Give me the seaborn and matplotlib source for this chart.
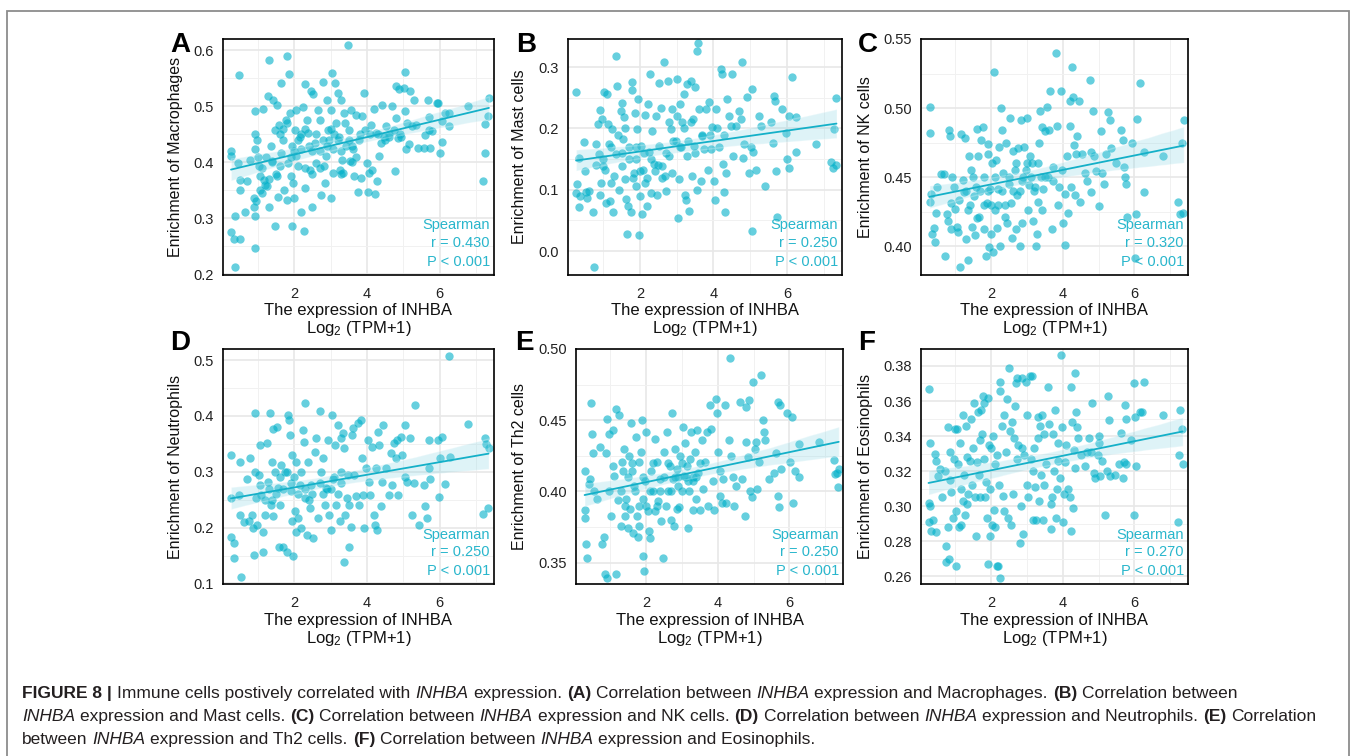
import seaborn as sns
import matplotlib.pyplot as plt
from matplotlib.patches import Rectangle

W, H = 1354, 756

# values: (INHBA log2 TPM+1, enrichment score)
macrophages = [
    (0.27, 0.421), (0.27, 0.411), (0.26, 0.275), (0.35, 0.263), (0.52, 0.264), (0.37, 0.213), (0.37, 0.305),
    (0.49, 0.555), (0.45, 0.399), (0.5, 0.369), (0.52, 0.35), (0.64, 0.311), (0.7, 0.366), (0.79, 0.404),
    (0.88, 0.336), (0.9, 0.321), (0.91, 0.491), (0.92, 0.451), (0.93, 0.423), (0.91, 0.247), (0.92, 0.304),
    (0.94, 0.331), (0.97, 0.44), (1.02, 0.393), (1.05, 0.375), (1.06, 0.351), (1.1, 0.345), (1.15, 0.495),
    (1.17, 0.369), (1.23, 0.41), (1.25, 0.357), (1.29, 0.518), (1.32, 0.321), (1.35, 0.429), (1.3, 0.582),
    (1.38, 0.402), (1.43, 0.512), (1.47, 0.458), (1.48, 0.287), (1.52, 0.503), (1.54, 0.375), (1.56, 0.339),
    (1.59, 0.467), (1.61, 0.393), (1.65, 0.542), (1.65, 0.417), (1.7, 0.44), (1.72, 0.351), (1.77, 0.476),
    (1.79, 0.333), (1.81, 0.59), (1.86, 0.557), (1.84, 0.399), (1.88, 0.488), (1.9, 0.375), (1.93, 0.429),
    (1.95, 0.286), (1.97, 0.363), (2.0, 0.336), (2.02, 0.458), (2.05, 0.411), (2.06, 0.494), (2.11, 0.393),
    (2.15, 0.446), (2.18, 0.312), (2.2, 0.423), (2.25, 0.498), (2.26, 0.277), (2.29, 0.354), (2.31, 0.54),
    (2.34, 0.476), (2.38, 0.452), (2.43, 0.387), (2.47, 0.527), (2.5, 0.321), (2.52, 0.521), (2.56, 0.434),
    (2.61, 0.399), (2.65, 0.494), (2.7, 0.476), (2.75, 0.342), (2.79, 0.543), (2.81, 0.393), (2.85, 0.363),
    (2.88, 0.411), (2.91, 0.512), (2.93, 0.458), (2.97, 0.44), (3.02, 0.336), (3.04, 0.56), (3.02, 0.494),
    (3.06, 0.423), (3.08, 0.381), (3.11, 0.541), (3.15, 0.47), (3.2, 0.524), (3.23, 0.446), (3.25, 0.387),
    (3.29, 0.512), (3.32, 0.405), (3.34, 0.381), (3.38, 0.488), (3.43, 0.429), (3.47, 0.61), (3.5, 0.458),
    (3.54, 0.402), (3.56, 0.494), (3.61, 0.423), (3.65, 0.375), (3.7, 0.485), (3.75, 0.347), (3.79, 0.44),
    (3.84, 0.372), (3.88, 0.482), (3.93, 0.524), (3.95, 0.458), (4.0, 0.399), (4.02, 0.347), (4.06, 0.381),
    (4.11, 0.467), (4.15, 0.387), (4.2, 0.496), (4.23, 0.344), (4.25, 0.452), (4.27, 0.366), (4.34, 0.411),
    (4.38, 0.434), (4.43, 0.503), (4.47, 0.446), (4.52, 0.464), (4.61, 0.446), (4.7, 0.5), (4.75, 0.458),
    (4.77, 0.384), (4.79, 0.479), (4.81, 0.536), (4.86, 0.443), (4.88, 0.53), (4.95, 0.446), (5.02, 0.533),
    (5.05, 0.561), (5.06, 0.491), (5.08, 0.423), (5.11, 0.47), (5.17, 0.432), (5.2, 0.527), (5.25, 0.464),
    (5.29, 0.512), (5.34, 0.467), (5.41, 0.426), (5.58, 0.426), (5.61, 0.449), (5.68, 0.512), (5.7, 0.458),
    (5.72, 0.48), (5.75, 0.426), (5.79, 0.455), (5.93, 0.506), (5.97, 0.505), (6.0, 0.416), (6.06, 0.437),
    (6.08, 0.473), (6.15, 0.488), (6.25, 0.464), (6.27, 0.488), (6.79, 0.501), (7.2, 0.366), (7.26, 0.417),
    (7.26, 0.469), (7.34, 0.482), (7.36, 0.515),
    (1.6, 0.45), (1.7, 0.46), (1.8, 0.47), (1.9, 0.41), (2.0, 0.42), (2.1, 0.44), (2.2, 0.45), (2.3, 0.46),
    (2.4, 0.43), (2.5, 0.42), (2.6, 0.45), (2.7, 0.42), (2.8, 0.44), (2.9, 0.43), (3.0, 0.46), (3.1, 0.45),
    (3.2, 0.44), (3.3, 0.42), (3.4, 0.47), (3.5, 0.44), (3.6, 0.43), (3.7, 0.41), (3.8, 0.45), (1.4, 0.4),
    (1.5, 0.38), (1.3, 0.37), (1.2, 0.36), (1.1, 0.39), (1.0, 0.41), (2.3, 0.39), (2.5, 0.38), (2.7, 0.39),
    (3.3, 0.38), (3.6, 0.4), (4.1, 0.45), (4.3, 0.45), (4.5, 0.44), (4.6, 0.45), (4.9, 0.45),
]

mast = [
    (0.27, 0.26), (0.29, 0.109), (0.26, 0.095), (0.35, 0.152), (0.38, 0.09), (0.35, 0.072), (0.47, 0.178),
    (0.5, 0.131), (0.52, 0.096), (0.56, 0.087), (0.61, 0.098), (0.72, 0.063), (0.75, -0.026), (0.79, 0.175),
    (0.86, 0.208), (0.88, 0.158), (0.9, 0.092), (0.93, 0.111), (0.91, 0.23), (0.97, 0.216), (0.99, 0.139),
    (1.02, 0.259), (1.06, 0.133), (1.08, 0.079), (1.1, 0.257), (1.14, 0.207), (1.15, 0.174), (1.17, 0.081),
    (1.2, 0.111), (1.25, 0.199), (1.26, 0.063), (1.29, 0.122), (1.34, 0.318), (1.35, 0.158), (1.38, 0.27),
    (1.43, 0.1), (1.47, 0.229), (1.5, 0.242), (1.52, 0.139), (1.54, 0.183), (1.56, 0.218), (1.59, 0.117),
    (1.63, 0.085), (1.65, 0.028), (1.68, 0.073), (1.7, 0.169), (1.75, 0.063), (1.77, 0.262), (1.79, 0.276),
    (1.84, 0.128), (1.86, 0.226), (1.88, 0.106), (1.9, 0.15), (1.93, 0.199), (1.95, 0.248), (1.97, 0.027),
    (2.0, 0.09), (2.02, 0.172), (2.06, 0.06), (2.08, 0.133), (2.14, 0.222), (2.15, 0.111), (2.2, 0.073),
    (2.22, 0.24), (2.25, 0.161), (2.27, 0.289), (2.29, 0.095), (2.34, 0.196), (2.38, 0.142), (2.43, 0.221),
    (2.47, 0.092), (2.52, 0.172), (2.53, 0.274), (2.56, 0.234), (2.61, 0.139), (2.65, 0.308), (2.68, 0.122),
    (2.72, 0.098), (2.77, 0.278), (2.79, 0.155), (2.84, 0.199), (2.86, 0.232), (2.88, 0.128), (2.97, 0.18),
    (3.02, 0.28), (3.04, 0.054), (3.06, 0.117), (3.08, 0.24), (3.11, 0.169), (3.15, 0.21), (3.2, 0.256),
    (3.23, 0.092), (3.25, 0.084), (3.28, 0.273), (3.29, 0.155), (3.34, 0.065), (3.38, 0.278), (3.41, 0.122),
    (3.43, 0.215), (3.47, 0.172), (3.5, 0.267), (3.54, 0.327), (3.59, 0.339), (3.56, 0.1), (3.61, 0.232),
    (3.65, 0.114), (3.7, 0.188), (3.75, 0.167), (3.79, 0.232), (3.84, 0.133), (3.88, 0.243), (3.93, 0.166),
    (3.97, 0.202), (4.02, 0.114), (4.05, 0.084), (4.08, 0.232), (4.15, 0.169), (4.2, 0.297), (4.23, 0.289),
    (4.27, 0.142), (4.29, 0.096), (4.32, 0.064), (4.34, 0.128), (4.38, 0.248), (4.43, 0.221), (4.47, 0.204),
    (4.5, 0.289), (4.52, 0.155), (4.61, 0.204), (4.7, 0.229), (4.75, 0.215), (4.77, 0.308), (4.81, 0.152),
    (4.84, 0.174), (4.9, 0.251), (4.97, 0.128), (5.02, 0.169), (5.05, 0.264), (5.06, 0.033), (5.09, 0.161),
    (5.15, 0.133), (5.25, 0.221), (5.29, 0.204), (5.41, 0.106), (5.56, 0.21), (5.61, 0.177), (5.65, 0.253),
    (5.68, 0.245), (5.7, 0.13), (5.73, 0.056), (5.88, 0.232), (5.97, 0.193), (6.0, 0.15), (6.05, 0.136),
    (6.06, 0.221), (6.15, 0.284), (6.25, 0.218), (6.26, 0.161), (6.79, 0.174), (7.2, 0.145), (7.25, 0.136),
    (7.29, 0.199), (7.34, 0.14), (7.35, 0.249),
    (1.5, 0.16), (1.7, 0.15), (1.9, 0.17), (2.1, 0.16), (2.3, 0.15), (2.5, 0.14), (2.7, 0.16), (2.9, 0.18),
    (3.1, 0.17), (3.3, 0.18), (3.5, 0.16), (3.7, 0.19), (3.9, 0.19), (4.1, 0.2), (4.3, 0.19), (1.8, 0.12),
    (2.0, 0.13), (2.2, 0.12), (2.4, 0.13), (2.6, 0.12), (2.8, 0.21), (3.0, 0.22), (3.2, 0.2), (3.4, 0.21),
    (1.6, 0.2), (1.4, 0.19), (1.2, 0.17), (1.0, 0.15), (0.8, 0.14),
]

nk = [
    (0.28, 0.501), (0.28, 0.482), (0.31, 0.438), (0.28, 0.432), (0.35, 0.409), (0.4, 0.413), (0.44, 0.403),
    (0.49, 0.443), (0.47, 0.424), (0.59, 0.452), (0.68, 0.452), (0.72, 0.393), (0.78, 0.423), (0.8, 0.418),
    (0.83, 0.484), (0.85, 0.48), (0.87, 0.431), (0.89, 0.412), (0.92, 0.45), (0.95, 0.443), (0.98, 0.427),
    (1.04, 0.414), (1.08, 0.41), (1.11, 0.433), (1.14, 0.385), (1.15, 0.481), (1.2, 0.448), (1.25, 0.439),
    (1.28, 0.478), (1.29, 0.405), (1.34, 0.426), (1.36, 0.39), (1.39, 0.465), (1.43, 0.455), (1.46, 0.414),
    (1.51, 0.436), (1.55, 0.408), (1.58, 0.443), (1.6, 0.485), (1.64, 0.465), (1.67, 0.421), (1.72, 0.477),
    (1.76, 0.486), (1.79, 0.412), (1.81, 0.45), (1.86, 0.393), (1.89, 0.431), (1.91, 0.474), (1.92, 0.467),
    (1.95, 0.399), (1.98, 0.441), (2.0, 0.409), (2.02, 0.46), (2.05, 0.396), (2.09, 0.526), (2.11, 0.426),
    (2.14, 0.462), (2.17, 0.413), (2.19, 0.441), (2.22, 0.472), (2.26, 0.4), (2.28, 0.5), (2.3, 0.484),
    (2.33, 0.453), (2.38, 0.421), (2.42, 0.475), (2.45, 0.417), (2.49, 0.445), (2.52, 0.493), (2.55, 0.431),
    (2.58, 0.406), (2.61, 0.469), (2.66, 0.455), (2.69, 0.412), (2.72, 0.437), (2.75, 0.471), (2.8, 0.4),
    (2.83, 0.491), (2.85, 0.417), (2.87, 0.447), (2.92, 0.472), (2.96, 0.455), (2.99, 0.493), (3.02, 0.426),
    (3.05, 0.444), (3.08, 0.465), (3.13, 0.46), (3.17, 0.418), (3.22, 0.443), (3.25, 0.4), (3.27, 0.409),
    (3.3, 0.432), (3.34, 0.475), (3.36, 0.498), (3.41, 0.486), (3.43, 0.426), (3.46, 0.441), (3.51, 0.483),
    (3.55, 0.501), (3.58, 0.45), (3.62, 0.484), (3.65, 0.512), (3.69, 0.412), (3.72, 0.457), (3.74, 0.447),
    (3.81, 0.54), (3.84, 0.487), (3.86, 0.43), (3.9, 0.443), (3.95, 0.512), (3.98, 0.455), (4.0, 0.417),
    (4.05, 0.438), (4.07, 0.401), (4.12, 0.465), (4.16, 0.424), (4.21, 0.505), (4.21, 0.487), (4.24, 0.443),
    (4.26, 0.53), (4.28, 0.508), (4.31, 0.473), (4.33, 0.437), (4.37, 0.467), (4.4, 0.48), (4.45, 0.505),
    (4.48, 0.432), (4.54, 0.467), (4.63, 0.453), (4.68, 0.447), (4.75, 0.52), (4.78, 0.468), (4.8, 0.439),
    (4.84, 0.498), (4.87, 0.465), (4.94, 0.454), (5.01, 0.429), (5.06, 0.483), (5.1, 0.453), (5.15, 0.445),
    (5.22, 0.467), (5.27, 0.497), (5.31, 0.491), (5.34, 0.471), (5.48, 0.46), (5.62, 0.484), (5.67, 0.477),
    (5.71, 0.457), (5.74, 0.45), (5.77, 0.445), (5.79, 0.421), (5.93, 0.475), (6.04, 0.423), (6.03, 0.391),
    (6.07, 0.492), (6.16, 0.518), (6.28, 0.468), (6.28, 0.439), (6.8, 0.465), (7.22, 0.432), (7.27, 0.423),
    (7.32, 0.475), (7.36, 0.424), (7.38, 0.491),
    (1.3, 0.44), (1.5, 0.45), (1.7, 0.44), (1.9, 0.44), (2.1, 0.45), (2.3, 0.44), (2.5, 0.45), (2.7, 0.46),
    (2.9, 0.45), (3.1, 0.45), (3.3, 0.46), (3.5, 0.45), (1.4, 0.43), (1.6, 0.42), (1.8, 0.43), (2.0, 0.43),
    (2.2, 0.43), (2.4, 0.43), (2.6, 0.44), (2.8, 0.44), (3.0, 0.46), (3.2, 0.44), (3.4, 0.45),
]

neutrophils = [
    (0.27, 0.33), (0.26, 0.253), (0.26, 0.184), (0.34, 0.172), (0.35, 0.145), (0.5, 0.317), (0.47, 0.259),
    (0.52, 0.223), (0.54, 0.111), (0.61, 0.21), (0.7, 0.288), (0.75, 0.211), (0.79, 0.324), (0.84, 0.223),
    (0.86, 0.199), (0.88, 0.151), (0.91, 0.406), (0.93, 0.3), (0.95, 0.253), (0.97, 0.205), (1.02, 0.294),
    (1.05, 0.348), (1.06, 0.277), (1.09, 0.259), (1.14, 0.193), (1.15, 0.157), (1.2, 0.223), (1.25, 0.351),
    (1.29, 0.282), (1.34, 0.405), (1.35, 0.241), (1.38, 0.318), (1.41, 0.377), (1.43, 0.22), (1.47, 0.3),
    (1.52, 0.381), (1.56, 0.271), (1.59, 0.166), (1.61, 0.241), (1.65, 0.312), (1.7, 0.166), (1.75, 0.3),
    (1.79, 0.157), (1.84, 0.402), (1.86, 0.393), (1.88, 0.366), (1.9, 0.265), (1.93, 0.33), (1.95, 0.211),
    (1.97, 0.15), (2.0, 0.291), (2.02, 0.229), (2.05, 0.193), (2.06, 0.318), (2.11, 0.217), (2.15, 0.277),
    (2.2, 0.199), (2.25, 0.375), (2.27, 0.354), (2.29, 0.423), (2.31, 0.253), (2.34, 0.187), (2.38, 0.318),
    (2.43, 0.235), (2.47, 0.277), (2.52, 0.181), (2.56, 0.336), (2.61, 0.36), (2.65, 0.217), (2.7, 0.409),
    (2.75, 0.3), (2.79, 0.324), (2.84, 0.241), (2.88, 0.271), (2.93, 0.357), (2.97, 0.223), (3.02, 0.196),
    (3.05, 0.402), (3.06, 0.288), (3.11, 0.348), (3.15, 0.241), (3.2, 0.384), (3.25, 0.211), (3.28, 0.36),
    (3.29, 0.3), (3.34, 0.369), (3.37, 0.342), (3.38, 0.139), (3.41, 0.223), (3.45, 0.253), (3.47, 0.294),
    (3.5, 0.166), (3.52, 0.241), (3.56, 0.202), (3.59, 0.366), (3.63, 0.378), (3.65, 0.294), (3.7, 0.256),
    (3.75, 0.387), (3.79, 0.241), (3.84, 0.393), (3.86, 0.324), (3.9, 0.259), (3.93, 0.199), (3.97, 0.306),
    (4.02, 0.357), (4.05, 0.282), (4.08, 0.259), (4.15, 0.345), (4.2, 0.223), (4.23, 0.205), (4.25, 0.306),
    (4.29, 0.196), (4.32, 0.372), (4.34, 0.348), (4.38, 0.238), (4.43, 0.282), (4.45, 0.384), (4.52, 0.306),
    (4.61, 0.259), (4.66, 0.333), (4.7, 0.277), (4.75, 0.351), (4.79, 0.324), (4.84, 0.357), (4.86, 0.259),
    (4.93, 0.363), (4.97, 0.33), (5.05, 0.384), (5.06, 0.291), (5.11, 0.282), (5.2, 0.36), (5.25, 0.223),
    (5.29, 0.28), (5.32, 0.42), (5.43, 0.205), (5.56, 0.277), (5.61, 0.238), (5.65, 0.217), (5.7, 0.357),
    (5.72, 0.306), (5.75, 0.288), (5.95, 0.357), (5.99, 0.254), (6.02, 0.324), (6.06, 0.363), (6.15, 0.278),
    (6.26, 0.508), (6.28, 0.327), (6.79, 0.385), (7.2, 0.224), (7.26, 0.36), (7.29, 0.349), (7.34, 0.236),
    (7.35, 0.342),
    (1.3, 0.27), (1.5, 0.26), (1.7, 0.27), (1.9, 0.28), (2.1, 0.26), (2.3, 0.27), (2.5, 0.26), (2.7, 0.28),
    (2.9, 0.27), (3.1, 0.29), (3.3, 0.28), (1.2, 0.25), (1.4, 0.25), (1.6, 0.29), (1.8, 0.3), (2.2, 0.3),
    (2.4, 0.25), (2.8, 0.26), (3.0, 0.27), (3.2, 0.26),
]

th2 = [
    (0.28, 0.414), (0.28, 0.387), (0.28, 0.381), (0.33, 0.363), (0.35, 0.353), (0.4, 0.405), (0.44, 0.409),
    (0.47, 0.462), (0.49, 0.44), (0.52, 0.427), (0.54, 0.4), (0.63, 0.395), (0.72, 0.431), (0.78, 0.363),
    (0.82, 0.368), (0.85, 0.342), (0.87, 0.427), (0.9, 0.451), (0.92, 0.339), (0.95, 0.44), (0.97, 0.4),
    (1.02, 0.383), (1.06, 0.418), (1.08, 0.443), (1.11, 0.411), (1.15, 0.342), (1.17, 0.458), (1.2, 0.394),
    (1.25, 0.454), (1.29, 0.376), (1.32, 0.421), (1.34, 0.414), (1.39, 0.43), (1.42, 0.383), (1.44, 0.395),
    (1.48, 0.374), (1.53, 0.425), (1.55, 0.388), (1.58, 0.448), (1.6, 0.414), (1.64, 0.371), (1.67, 0.404),
    (1.72, 0.438), (1.74, 0.383), (1.76, 0.368), (1.79, 0.421), (1.81, 0.376), (1.86, 0.428), (1.89, 0.45),
    (1.91, 0.355), (1.92, 0.395), (1.95, 0.344), (1.98, 0.407), (2.0, 0.442), (2.05, 0.386), (2.09, 0.372),
    (2.11, 0.367), (2.14, 0.414), (2.19, 0.4), (2.24, 0.437), (2.26, 0.386), (2.3, 0.421), (2.33, 0.393),
    (2.38, 0.409), (2.42, 0.379), (2.47, 0.353), (2.49, 0.428), (2.55, 0.39), (2.57, 0.442), (2.61, 0.4),
    (2.66, 0.418), (2.69, 0.38), (2.72, 0.455), (2.75, 0.409), (2.78, 0.376), (2.8, 0.43), (2.85, 0.388),
    (2.87, 0.416), (2.89, 0.404), (2.92, 0.389), (2.94, 0.425), (2.99, 0.4), (3.04, 0.445), (3.05, 0.411),
    (3.08, 0.434), (3.13, 0.418), (3.16, 0.374), (3.18, 0.407), (3.22, 0.423), (3.25, 0.442), (3.3, 0.387),
    (3.32, 0.407), (3.36, 0.428), (3.39, 0.395), (3.43, 0.443), (3.46, 0.413), (3.51, 0.387), (3.55, 0.436),
    (3.6, 0.402), (3.64, 0.421), (3.69, 0.442), (3.74, 0.39), (3.77, 0.461), (3.81, 0.444), (3.86, 0.407),
    (3.9, 0.387), (3.95, 0.465), (3.97, 0.455), (4.0, 0.428), (4.05, 0.397), (4.07, 0.414), (4.12, 0.392),
    (4.16, 0.409), (4.21, 0.461), (4.24, 0.392), (4.31, 0.436), (4.35, 0.494), (4.37, 0.425), (4.43, 0.41),
    (4.45, 0.39), (4.52, 0.404), (4.61, 0.463), (4.68, 0.409), (4.75, 0.383), (4.78, 0.435), (4.8, 0.459),
    (4.84, 0.424), (4.87, 0.464), (4.91, 0.4), (4.96, 0.396), (4.99, 0.477), (5.03, 0.43), (5.06, 0.435),
    (5.09, 0.402), (5.15, 0.421), (5.2, 0.482), (5.27, 0.45), (5.29, 0.442), (5.31, 0.436), (5.43, 0.409),
    (5.58, 0.413), (5.62, 0.427), (5.67, 0.463), (5.69, 0.397), (5.72, 0.389), (5.75, 0.461), (5.78, 0.416),
    (5.93, 0.455), (6.03, 0.421), (6.07, 0.452), (6.09, 0.392), (6.16, 0.414), (6.28, 0.41), (6.28, 0.433),
    (6.82, 0.435), (7.25, 0.422), (7.29, 0.412), (7.32, 0.413), (7.36, 0.403), (7.38, 0.416),
    (1.3, 0.4), (1.5, 0.41), (1.7, 0.4), (1.9, 0.41), (2.1, 0.4), (2.3, 0.39), (2.5, 0.41), (2.7, 0.4),
    (2.9, 0.41), (3.1, 0.41), (3.3, 0.41), (3.5, 0.42), (1.4, 0.39), (1.6, 0.42), (1.8, 0.39), (2.0, 0.39),
    (2.2, 0.42), (2.4, 0.4), (2.6, 0.42), (2.8, 0.41), (3.0, 0.42), (3.2, 0.4), (3.4, 0.41),
]

eosinophils = [
    (0.25, 0.367), (0.25, 0.302), (0.28, 0.3), (0.25, 0.291), (0.33, 0.286), (0.37, 0.292), (0.45, 0.285),
    (0.3, 0.336), (0.42, 0.33), (0.45, 0.326), (0.51, 0.317), (0.56, 0.321), (0.64, 0.305), (0.71, 0.32),
    (0.75, 0.277), (0.75, 0.268), (0.8, 0.345), (0.8, 0.288), (0.82, 0.27), (0.84, 0.331), (0.86, 0.315),
    (0.89, 0.308), (0.94, 0.293), (0.96, 0.327), (0.99, 0.344), (1.01, 0.297), (1.03, 0.266), (1.05, 0.344),
    (1.08, 0.324), (1.11, 0.288), (1.13, 0.336), (1.15, 0.31), (1.17, 0.289), (1.2, 0.303), (1.22, 0.352),
    (1.25, 0.318), (1.27, 0.295), (1.3, 0.346), (1.32, 0.328), (1.33, 0.301), (1.36, 0.307), (1.4, 0.326),
    (1.43, 0.35), (1.46, 0.312), (1.49, 0.333), (1.52, 0.359), (1.55, 0.305), (1.59, 0.283), (1.6, 0.325),
    (1.62, 0.354), (1.65, 0.318), (1.68, 0.338), (1.69, 0.305), (1.73, 0.355), (1.74, 0.341), (1.77, 0.363),
    (1.79, 0.359), (1.81, 0.327), (1.84, 0.305), (1.87, 0.314), (1.89, 0.293), (1.9, 0.362), (1.91, 0.267),
    (1.93, 0.335), (1.96, 0.283), (1.98, 0.31), (1.99, 0.333), (2.02, 0.289), (2.05, 0.34), (2.07, 0.298),
    (2.1, 0.288), (2.12, 0.324), (2.15, 0.266), (2.17, 0.329), (2.19, 0.266), (2.21, 0.312), (2.24, 0.371),
    (2.26, 0.366), (2.26, 0.259), (2.29, 0.346), (2.32, 0.306), (2.35, 0.352), (2.36, 0.297), (2.42, 0.331),
    (2.44, 0.361), (2.47, 0.293), (2.5, 0.379), (2.53, 0.343), (2.55, 0.289), (2.58, 0.348), (2.6, 0.307),
    (2.64, 0.339), (2.67, 0.357), (2.69, 0.37), (2.72, 0.327), (2.73, 0.373), (2.76, 0.335), (2.81, 0.279),
    (2.83, 0.3), (2.86, 0.333), (2.87, 0.373), (2.9, 0.284), (2.92, 0.329), (2.97, 0.371), (3.01, 0.352),
    (3.01, 0.312), (3.04, 0.305), (3.08, 0.374), (3.11, 0.327), (3.14, 0.374), (3.16, 0.32), (3.18, 0.292),
    (3.2, 0.333), (3.23, 0.311), (3.25, 0.292), (3.3, 0.339), (3.32, 0.351), (3.34, 0.303), (3.37, 0.346),
    (3.39, 0.318), (3.42, 0.352), (3.44, 0.292), (3.47, 0.312), (3.49, 0.341), (3.53, 0.324), (3.58, 0.368),
    (3.62, 0.347), (3.66, 0.287), (3.68, 0.301), (3.69, 0.305), (3.72, 0.341), (3.75, 0.32), (3.79, 0.355),
    (3.81, 0.293), (3.85, 0.31), (3.86, 0.336), (3.88, 0.326), (3.91, 0.316), (3.96, 0.386), (3.98, 0.345),
    (4.0, 0.291), (4.04, 0.307), (4.05, 0.325), (4.1, 0.335), (4.15, 0.31), (4.19, 0.305), (4.22, 0.368),
    (4.24, 0.286), (4.26, 0.348), (4.29, 0.299), (4.32, 0.332), (4.34, 0.322), (4.35, 0.376), (4.38, 0.354),
    (4.41, 0.345), (4.43, 0.339), (4.52, 0.329), (4.63, 0.323), (4.68, 0.331), (4.73, 0.339), (4.79, 0.331),
    (4.83, 0.359), (4.86, 0.319), (4.9, 0.316), (4.98, 0.329), (5.0, 0.34), (5.02, 0.336), (5.04, 0.317),
    (5.11, 0.326), (5.17, 0.295), (5.23, 0.32), (5.26, 0.363), (5.3, 0.349), (5.33, 0.317), (5.47, 0.318),
    (5.56, 0.324), (5.64, 0.342), (5.67, 0.316), (5.72, 0.325), (5.74, 0.358), (5.76, 0.35), (5.78, 0.324),
    (5.92, 0.338), (5.99, 0.295), (6.02, 0.351), (6.05, 0.323), (5.99, 0.37), (6.15, 0.354), (6.22, 0.354),
    (6.27, 0.371), (6.79, 0.352), (7.21, 0.291), (7.26, 0.329), (7.28, 0.355), (7.33, 0.344), (7.35, 0.324),
]

letters = ["A", "B", "C", "D", "E", "F"]
series = [macrophages, mast, nk, neutrophils, th2, eosinophils]
ylabels = ["Enrichment of Macrophages", "Enrichment of Mast cells", "Enrichment of NK cells",
           "Enrichment of Neutrophils", "Enrichment of Th2 cells", "Enrichment of Eosinophils"]
r_values = ["0.430", "0.250", "0.320", "0.250", "0.250", "0.270"]
yticks = [[0.2, 0.3, 0.4, 0.5, 0.6], [0.0, 0.1, 0.2, 0.3], [0.40, 0.45, 0.50, 0.55],
          [0.1, 0.2, 0.3, 0.4, 0.5], [0.35, 0.40, 0.45, 0.50], [0.26, 0.28, 0.30, 0.32, 0.34, 0.36, 0.38]]
ytick_fmt = ["{:.1f}", "{:.1f}", "{:.2f}", "{:.1f}", "{:.2f}", "{:.2f}"]
ylims = [(0.199, 0.62), (-0.039, 0.346), (0.379, 0.55), (0.099, 0.52), (0.335, 0.50), (0.2555, 0.3897)]

# layout in pixels (left, top, right, bottom)
boxes = [(223, 39, 494, 275), (568, 39, 842, 275), (921, 39, 1188, 275),
         (223, 349, 494, 584), (576, 349, 843, 584), (921, 349, 1188, 584)]
letter_pos = [(170, 52), (516, 52), (858, 52), (170, 350), (515, 350), (858, 350)]
ylabel_x = [176, 520, 865, 176, 520, 865]

PT = "#00B0C9"
LINE = "#14B0C8"
TXT = "#29B6CC"

sns.set_theme(style="white")
plt.rcParams['font.family'] = ['Liberation Sans', 'DejaVu Sans']
plt.rcParams['mathtext.fontset'] = 'custom'
plt.rcParams['mathtext.rm'] = 'Liberation Sans'
plt.rcParams['mathtext.it'] = 'Liberation Sans:italic'
plt.rcParams['mathtext.bf'] = 'Liberation Sans:bold'

fig = plt.figure(figsize=(W / 100, H / 100), dpi=100)
fig.patch.set_facecolor("white")


def fx(px):
    return px / W


def fy(py):
    return 1 - py / H


for i in range(6):
    l, t, r, b = boxes[i]
    ax = fig.add_axes([fx(l), fy(b), (r - l) / W, (b - t) / H])
    xs = [p[0] for p in series[i]]
    ys = [p[1] for p in series[i]]
    sns.regplot(x=xs, y=ys, ax=ax, color=PT, seed=1,
                scatter_kws=dict(s=36, alpha=0.6, linewidths=0),
                line_kws=dict(color=LINE, lw=1.3))
    for coll in ax.collections[1:]:
        coll.set_alpha(0.25)
        coll.set_facecolor("#7FD3E3")
    ax.set_xlim(0.04, 7.5)
    ax.set_xticks([2, 4, 6])
    ax.set_xticklabels(["2", "4", "6"])
    ax.set_xticks([1, 3, 5, 7], minor=True)
    yt = yticks[i]
    ax.set_yticks(yt)
    ax.set_yticklabels([ytick_fmt[i].format(v) for v in yt])
    step = yt[1] - yt[0]
    ax.set_yticks([v - step / 2 for v in yt] + [yt[-1] + step / 2], minor=True)
    ax.set_ylim(*ylims[i])
    ax.grid(which="major", color="#E8E8E8", lw=1.2)
    ax.grid(which="minor", color="#F1F1F1", lw=0.7)
    ax.set_axisbelow(True)
    ax.tick_params(which="major", direction="out", length=3.5, width=1, color="black",
                   labelsize=10.5, labelcolor="#222222", pad=3)
    ax.tick_params(axis="x", which="major", pad=5)
    ax.tick_params(which="minor", length=0)
    for sp in ax.spines.values():
        sp.set_visible(True)
        sp.set_color("black")
        sp.set_linewidth(1.2)
    ax.set_xlabel("")
    ax.set_ylabel("")

    ax.text(0.985, 0.21, "Spearman", transform=ax.transAxes, ha="right", va="center",
            fontsize=10.5, color=TXT)
    ax.text(0.985, 0.135, "r = " + r_values[i], transform=ax.transAxes, ha="right", va="center",
            fontsize=10.5, color=TXT)
    ax.text(0.985, 0.057, "P < 0.001", transform=ax.transAxes, ha="right", va="center",
            fontsize=10.5, color=TXT)

    cx = (l + r) / 2
    fig.text(fx(cx), fy(b + 36), "The expression of INHBA", ha="center", va="center",
             fontsize=12, color="#111111")
    fig.text(fx(cx), fy(b + 54), "Log$_2$ (TPM+1)", ha="center", va="center",
             fontsize=12, color="#111111")
    fig.text(fx(ylabel_x[i]), fy((t + b) / 2), ylabels[i], rotation=90, ha="center", va="center",
             fontsize=11.5, color="#111111")
    lx, ly = letter_pos[i]
    fig.text(fx(lx), fy(ly), letters[i], ha="left", va="baseline", fontsize=20,
             fontweight="bold", color="black")

# frame around the figure
fig.patches.append(Rectangle((fx(7), -0.05), (1349 - 7) / W, fy(11) + 0.05, transform=fig.transFigure,
                             fill=False, edgecolor="#8C8C8C", lw=1.3))

# caption with mixed bold / italic runs
caption = [
    [("FIGURE 8 |", "bold"), ("Immune cells postively correlated with", "normal"), ("INHBA", "italic"),
     ("expression.", "normal"), ("(A)", "bold"), ("Correlation between", "normal"), ("INHBA", "italic"),
     ("expression and Macrophages.", "normal"), ("(B)", "bold"), ("Correlation between", "normal")],
    [("INHBA", "italic"), ("expression and Mast cells.", "normal"), ("(C)", "bold"),
     ("Correlation between", "normal"), ("INHBA", "italic"), ("expression and NK cells.", "normal"),
     ("(D)", "bold"), ("Correlation between", "normal"), ("INHBA", "italic"),
     ("expression and Neutrophils.", "normal"), ("(E)", "bold"), ("Correlation", "normal")],
    [("between", "normal"), ("INHBA", "italic"), ("expression and Th2 cells.", "normal"), ("(F)", "bold"),
     ("Correlation between", "normal"), ("INHBA", "italic"), ("expression and Eosinophils.", "normal")],
]
cap_size = 12.5
renderer = fig.canvas.get_renderer()


def run_width(s, **kw):
    t = fig.text(0, 0, s, fontsize=cap_size, **kw)
    w = t.get_window_extent(renderer).width
    t.remove()
    return w


space = run_width("a a") - run_width("aa")
for k, line in enumerate(caption):
    x = 22
    y = 698 + k * 23
    for s, style in line:
        kw = {}
        if style == "bold":
            kw["fontweight"] = "bold"
        elif style == "italic":
            kw["fontstyle"] = "italic"
        t = fig.text(fx(x), fy(y), s, fontsize=cap_size, color="#231F20", ha="left", va="baseline", **kw)
        x += t.get_window_extent(renderer).width + space

fig.savefig("out.png", dpi=100, facecolor="white")
